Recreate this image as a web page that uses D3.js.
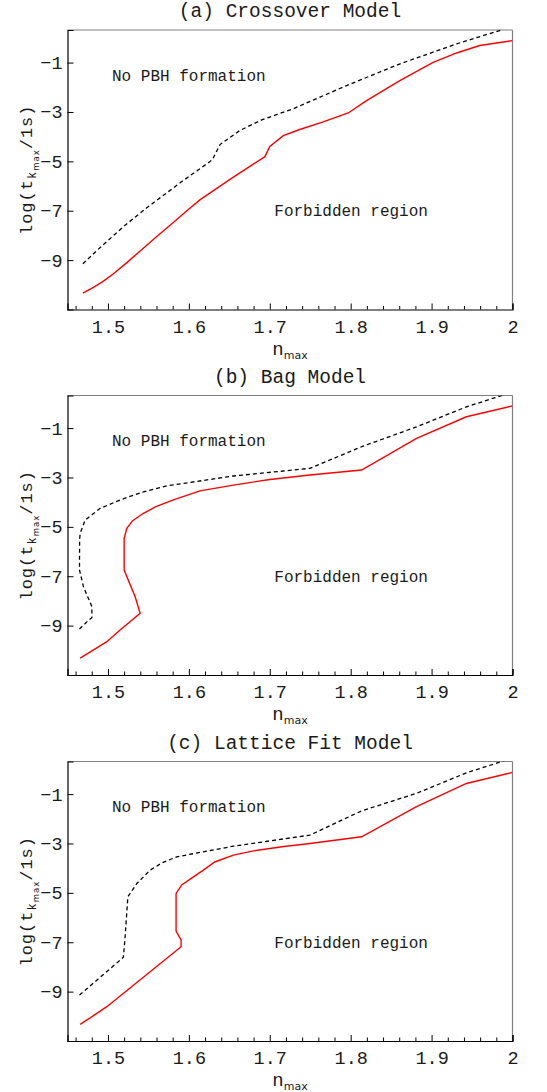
<!DOCTYPE html>
<html><head><meta charset="utf-8">
<script src="https://cdn.jsdelivr.net/npm/d3@7"></script>
<style>
body{margin:0;background:#fff}
text{font-family:"Liberation Mono","Courier New",monospace;fill:#1a1a1a}
</style></head>
<body><svg id="c" width="547" height="1092"></svg>
<script>
// ---------- data ----------
const panelTitles = ["(a) Crossover Model", "(b) Bag Model", "(c) Lattice Fit Model"];
const xTicks = [1.5, 1.6, 1.7, 1.8, 1.9, 2.0];
const xTickLabels = ["1.5", "1.6", "1.7", "1.8", "1.9", "2"];
const xMinorTicks = [1.46,1.48,1.52,1.54,1.56,1.58,1.62,1.64,1.66,1.68,1.72,1.74,1.76,1.78,1.82,1.84,1.86,1.88,1.92,1.94,1.96,1.98];
const yTicks = [-1, -3, -5, -7, -9];
const yTickLabels = ["\u22121", "\u22123", "\u22125", "\u22127", "\u22129"];

// (a) Crossover model
const crossDashN = [1.469,1.4863,1.52,1.548,1.59,1.629,1.6385,1.663,1.6907,1.729,1.795,1.861,1.931,2.0];
const crossDashT = [-9.15,-8.61,-7.62,-6.88,-5.85,-4.94,-4.32,-3.75,-3.31,-2.87,-1.93,-1.05,-0.24,0.46];
const crossSolidN = [1.469,1.482,1.4944,1.5068,1.5233,1.5398,1.56,1.58,1.599,1.614,1.655,1.694,1.700,1.7167,1.737,1.766,1.797,1.8196,1.8607,1.9019,1.931,1.9595,2.0];
const crossSolidT = [-10.34,-10.10,-9.85,-9.55,-9.10,-8.63,-8.05,-7.50,-6.96,-6.55,-5.64,-4.81,-4.40,-3.96,-3.71,-3.40,-3.04,-2.54,-1.73,-0.99,-0.61,-0.31,-0.11];

// (b) Bag model
const bagDashN = [1.4648,1.476,1.4801,1.4801,1.4697,1.4648,1.4650,1.4657,1.4719,1.4904,1.515,1.54,1.5727,1.655,1.7496,1.8154,1.8814,1.943,2.0];
const bagDashT = [-9.14,-8.78,-8.68,-8.23,-7.42,-6.74,-5.5,-5.26,-4.72,-4.25,-3.91,-3.62,-3.34,-2.94,-2.63,-1.73,-0.95,-0.14,0.46];
const bagSolidN = [1.4657,1.4986,1.515,1.5398,1.5336,1.52,1.52,1.5233,1.5306,1.5438,1.56,1.5809,1.6136,1.655,1.70,1.7496,1.8135,1.8814,1.943,2.0];
const bagSolidT = [-10.32,-9.65,-9.18,-8.50,-7.83,-6.75,-5.47,-5.06,-4.75,-4.45,-4.17,-3.91,-3.54,-3.31,-3.08,-2.90,-2.70,-1.42,-0.54,-0.10];

// (c) Lattice fit model
const latDashN = [1.4648,1.5191,1.5212,1.5246,1.5357,1.5521,1.566,1.585,1.655,1.7496,1.8135,1.8814,1.943,2.0];
const latDashT = [-9.14,-7.61,-6.78,-5.16,-4.62,-4.08,-3.80,-3.54,-3.11,-2.66,-1.68,-0.97,-0.14,0.46];
const latSolidN = [1.4657,1.4986,1.5089,1.5904,1.5904,1.5842,1.5842,1.5912,1.6056,1.6179,1.632,1.655,1.68,1.715,1.7496,1.8135,1.8814,1.943,2.0];
const latSolidT = [-10.33,-9.61,-9.34,-7.18,-6.91,-6.55,-5.02,-4.68,-4.35,-4.08,-3.75,-3.47,-3.30,-3.13,-3.00,-2.73,-1.51,-0.57,-0.12];

const panelsDash = [[crossDashN, crossDashT],[bagDashN, bagDashT],[latDashN, latDashT]];
const panelsSolid = [[crossSolidN, crossSolidT],[bagSolidN, bagSolidT],[latSolidN, latSolidT]];
const labelUpper = "No PBH formation";
const labelLower = "Forbidden region";

// ---------- layout ----------
const svg = d3.select("#c");
const left = 67.5, width = 445, height = 279.5;
const tops = [30, 395.5, 761.5];
const x = d3.scaleLinear().domain([1.45, 2.0]).range([left, left + width]);

tops.forEach((top, i) => {
  const y = d3.scaleLinear().domain([-11, 0.32]).range([top + height, top]);
  const g = svg.append("g");
  const clipId = "clip" + i;
  svg.append("clipPath").attr("id", clipId).append("rect")
    .attr("x", left).attr("y", top).attr("width", width).attr("height", height);

  // frame: top & right grey, left & bottom black
  g.append("line").attr("x1", left).attr("x2", left + width).attr("y1", top).attr("y2", top)
    .attr("stroke", "#808080").attr("stroke-width", 1.2);
  g.append("line").attr("x1", left + width).attr("x2", left + width).attr("y1", top).attr("y2", top + height)
    .attr("stroke", "#808080").attr("stroke-width", 1.2);

  // x axis (ticks inward)
  const xa = g.append("g").attr("transform", `translate(0,${top + height})`)
    .call(d3.axisBottom(x).tickValues(xTicks).tickSize(-6).tickPadding(10)
      .tickFormat((d, k) => xTickLabels[k]));
  xa.select(".domain").attr("stroke", "#000").attr("stroke-width", 1.2);
  xa.selectAll(".tick line").attr("stroke", "#000");
  xa.selectAll(".tick text").attr("font-size", 18.5).attr("font-family", "Liberation Mono").attr("fill", "#1a1a1a").attr("dy", "0.71em");
  const xm = g.append("g").attr("transform", `translate(0,${top + height})`)
    .call(d3.axisBottom(x).tickValues(xMinorTicks).tickSize(-3.5).tickFormat(""));
  xm.select(".domain").remove();
  xm.selectAll(".tick line").attr("stroke", "#000");

  // y axis
  const ya = g.append("g").attr("transform", `translate(${left},0)`)
    .call(d3.axisLeft(y).tickValues(yTicks).tickSize(-6).tickPadding(5)
      .tickFormat((d, k) => yTickLabels[k]));
  ya.select(".domain").attr("stroke", "#000").attr("stroke-width", 1.2);
  ya.selectAll(".tick line").attr("stroke", "#000");
  ya.selectAll(".tick text").attr("font-size", 18.5).attr("font-family", "Liberation Mono").attr("fill", "#1a1a1a");

  // curves
  const line = d3.line().x(d => x(d[0])).y(d => y(d[1]));
  const [dn, dt] = panelsDash[i];
  const [sn, st] = panelsSolid[i];
  g.append("path").datum(dn.map((v, k) => [v, dt[k]]))
    .attr("clip-path", `url(#${clipId})`)
    .attr("d", line).attr("fill", "none").attr("stroke", "#000")
    .attr("stroke-width", 1.3).attr("stroke-dasharray", "4,3");
  g.append("path").datum(sn.map((v, k) => [v, st[k]]))
    .attr("clip-path", `url(#${clipId})`)
    .attr("d", line).attr("fill", "none").attr("stroke", "#ff0000")
    .attr("stroke-width", 1.4);

  // region labels
  g.append("text").attr("x", x(1.505)).attr("y", y(-1.73)).attr("font-size", 16).text(labelUpper);
  g.append("text").attr("x", x(1.7056)).attr("y", y(-7.22)).attr("font-size", 16).text(labelLower);

  // title
  g.append("text").attr("x", left + width / 2).attr("y", top - 13).attr("text-anchor", "middle")
    .attr("font-size", 19.5).text(panelTitles[i]);

  // x label
  const xl = g.append("text").attr("x", left + width / 2).attr("y", top + height + 45)
    .attr("text-anchor", "middle").attr("font-size", 19);
  xl.append("tspan").text("n");
  xl.append("tspan").attr("font-size", 11).attr("dy", 4).attr("font-family", "DejaVu Sans").text("max");

  // y label
  const yl = g.append("text").attr("transform", `translate(32,${top + height / 2}) rotate(-90)`)
    .attr("text-anchor", "middle").attr("font-size", 17).attr("letter-spacing", 1);
  yl.append("tspan").text("log(t");
  yl.append("tspan").attr("font-size", 12).attr("dy", 4).text("k");
  yl.append("tspan").attr("font-size", 8.5).attr("dy", 3).attr("font-family", "DejaVu Sans").text("max");
  yl.append("tspan").attr("dy", -7).text("/1s)");
});
</script>
</body></html>
